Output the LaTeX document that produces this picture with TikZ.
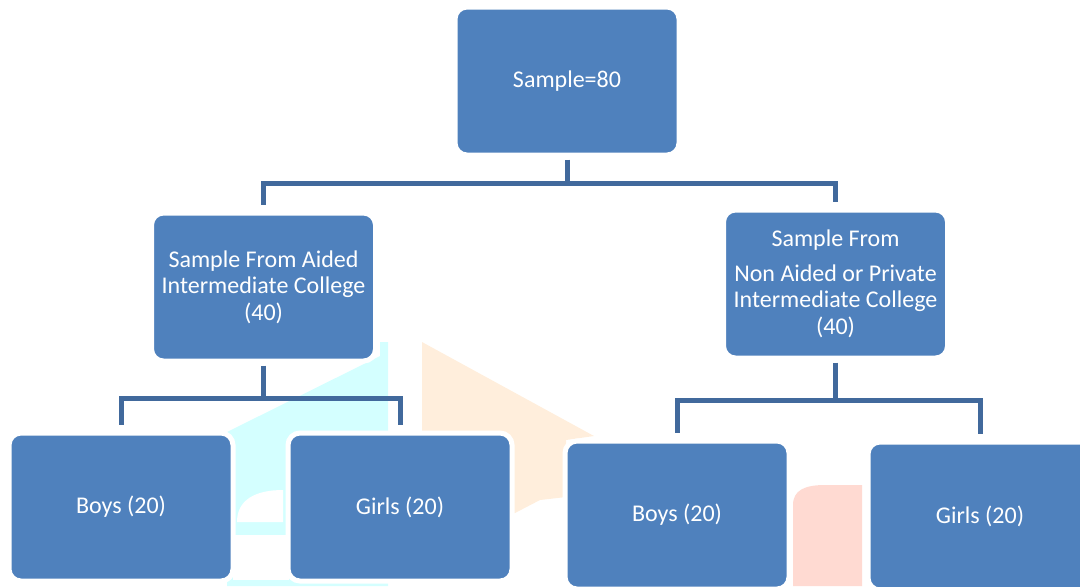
\documentclass[tikz,border=0pt]{standalone}
\usepackage{fontspec}
\setmainfont{Carlito}
\definecolor{boxblue}{HTML}{4F81BD}
\definecolor{linkblue}{HTML}{41699C}
\definecolor{wmcyan}{HTML}{D4FFFF}
\definecolor{wmorange}{HTML}{FFEEDC}
\definecolor{wmpink}{HTML}{FFDAD2}
\tikzset{
  boxnode/.style={draw=white, line width=2.5pt, fill=boxblue, rounded corners=6pt,
    minimum width=112pt, minimum height=74pt, text=white, align=center,
    font=\fontsize{12}{13.3}\selectfont, inner sep=2pt},
  conn/.style={draw=linkblue, line width=2.5pt},
}
\begin{document}
\begin{tikzpicture}[x=0.5pt,y=-0.5pt]
\useasboundingbox (0,0) rectangle (1080,586);
% faint watermark in the background
\fill[wmcyan] (380,342) -- (388,342) -- (388,586) -- (227,586) -- (227,432) -- (380,356) -- cycle;
\fill[white] (237,522) .. controls (237,500) and (255,490) .. (283,490) -- (283,522) -- cycle;
\fill[white] (233,535) rectangle (289,580);
\fill[wmorange] (422,342) -- (594,436) -- (566,440) -- (566,497) -- (540,500) -- (515,513) -- (422,513) -- cycle;
\fill[wmpink] (793,586) -- (793,505) .. controls (793,490) and (805,485) .. (825,485) -- (862,485) -- (862,586) -- cycle;
% boxes
\node[boxnode] (top) at (567,81) {Sample=80};
\node[boxnode] (lm) at (263.5,287) {Sample From Aided\\Intermediate College\\(40)};
\node[boxnode] (rm) at (835.5,284) {Sample From\\[4pt]Non Aided or Private\\Intermediate College\\(40)};
\node[boxnode] (lb) at (121,507) {Boys (20)};
\node[boxnode] (lg) at (400,507) {Girls (20)};
\node[boxnode] (rb) at (677,515) {Boys (20)};
\node[boxnode] (rg) at (980,516) {Girls (20)};
% bar coordinates
\coordinate (b1) at (567,183);
\coordinate (b2) at (263.5,398);
\coordinate (b3) at (835.5,400);
% connectors
\draw[conn, shorten <=1pt] (top.south) -- (b1);
\draw[conn, shorten <=3pt, shorten >=3pt] (lm.north) |- (b1) -| (rm.north);
\draw[conn, shorten <=1pt] (lm.south) -- (b2);
\draw[conn, shorten <=3pt, shorten >=3pt] (lb.north) |- (b2) -| (lg.north);
\draw[conn, shorten <=1pt] (rm.south) -- (b3);
\draw[conn, shorten <=3pt, shorten >=3pt] (rb.north) |- (b3) -| (rg.north);
\end{tikzpicture}
\end{document}
